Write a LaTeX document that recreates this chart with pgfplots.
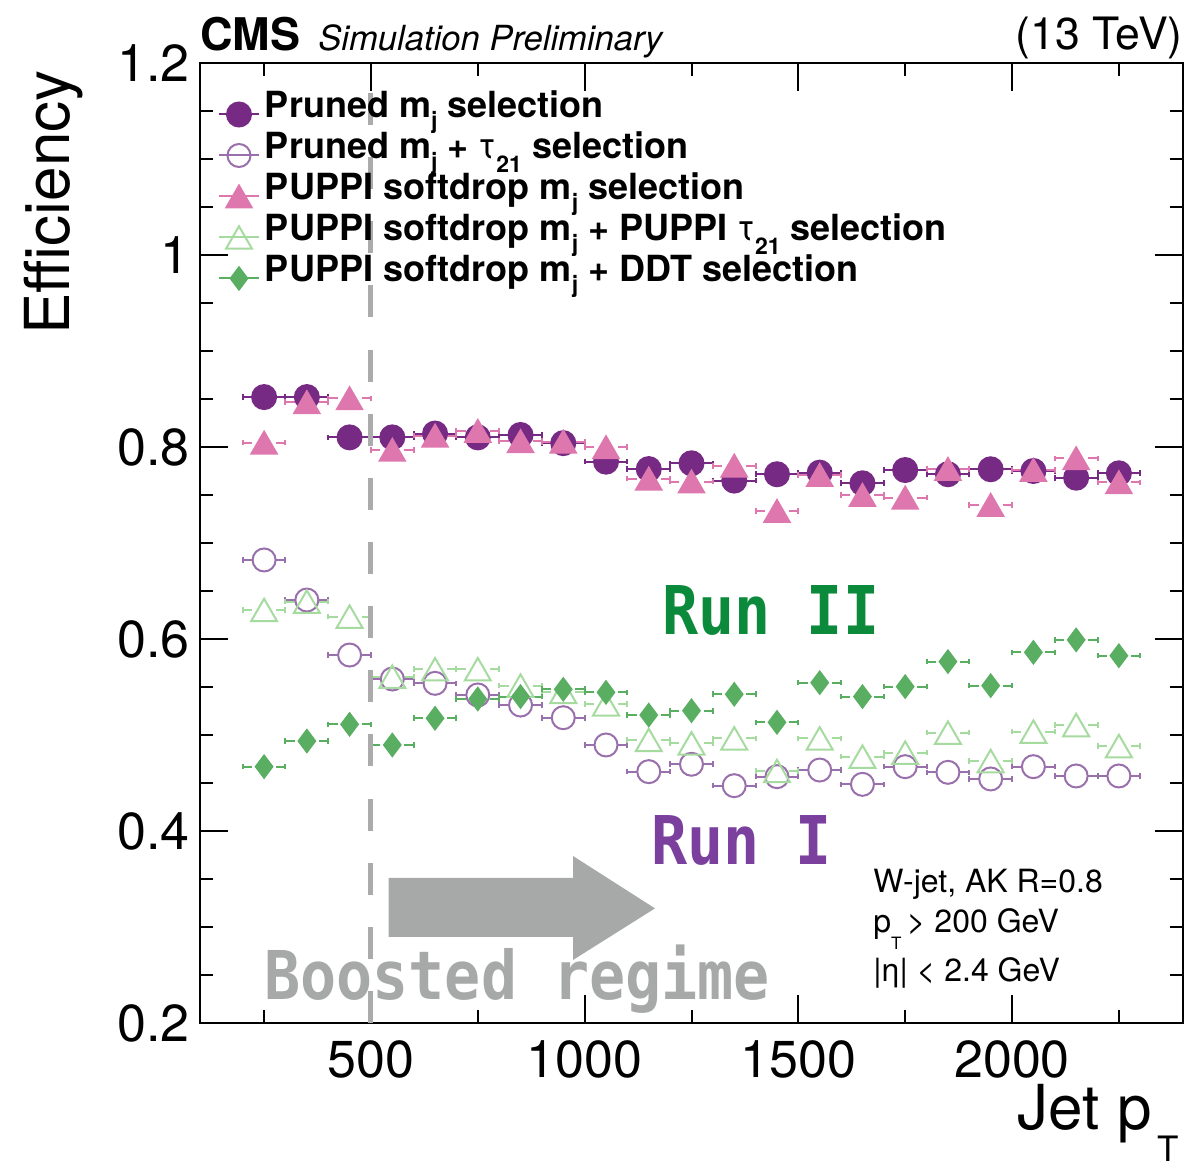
\documentclass[border=0pt]{standalone}
\usepackage{pgfplots}
\pgfplotsset{compat=1.18}
\usepackage{pgfplotstable}
\usepackage{fontspec}
\setmainfont{TeX Gyre Heros}
\newfontfamily\comicfont{DejaVu Sans Mono}
\definecolor{cA}{HTML}{762A83}
\definecolor{cB}{HTML}{9970AB}
\definecolor{cC}{HTML}{DE77AE}
\definecolor{cD}{HTML}{A6DBA0}
\definecolor{cE}{HTML}{5AAE61}
\definecolor{runII}{HTML}{0A8A3A}
\definecolor{runI}{HTML}{7B3F9E}
\definecolor{boost}{HTML}{A6A9A8}
\definecolor{dashg}{HTML}{ABABAB}

\newcommand{\sub}[1]{\raisebox{-5.5pt}{\fontsize{11.5}{11.5}\selectfont #1}}
\newcommand{\subb}[1]{\raisebox{-7pt}{\fontsize{11.5}{11.5}\selectfont #1}}
\newcommand{\tauS}{{\mdseries τ}}

\pgfplotsset{
  /pgfplots/error bars/draw error bar/.code 2 args={%
    \draw[line width=1pt, solid, shorten <=6pt] #1 -- #2;
    \draw[line width=1pt, solid] #2 ++(0pt,-1.4pt) -- ++(0pt,2.8pt);
  },
  legend image code/.code={%
    \draw[#1, line width=1pt, solid] (0pt,0pt) -- (20pt,0pt);
    \draw[#1, only marks, mark repeat=2, mark phase=2] plot coordinates {(0pt,0pt) (10pt,0pt) (20pt,0pt)};
  },
}

\pgfplotstableread{
x    a      b      c      d      e      ex
250  0.852  0.6823 0.8045 0.6302 0.4670 50
350  0.852  0.6406 0.8466 0.6389 0.4937 50
450  0.810  0.5833 0.8507 0.6233 0.5111 50
550  0.810  0.5583 0.7970 0.5608 0.4896 50
650  0.814  0.5538 0.8118 0.5685 0.5174 50
750  0.810  0.5417 0.8167 0.5685 0.5375 50
850  0.8125 0.5312 0.8060 0.5514 0.5400 50
950  0.804  0.5180 0.8055 0.5450 0.5476 50
1050 0.7847 0.4896 0.7997 0.5320 0.5444 50
1150 0.777  0.4618 0.7670 0.4948 0.5208 50
1250 0.783  0.4695 0.7640 0.4913 0.5253 50
1350 0.765  0.4472 0.7805 0.4965 0.5424 50
1450 0.7716 0.4566 0.7333 0.4625 0.5132 50
1550 0.7733 0.4635 0.7708 0.4965 0.5545 50
1650 0.7622 0.4486 0.7500 0.4774 0.5400 50
1750 0.776  0.4670 0.7472 0.4816 0.5504 50
1850 0.7716 0.4611 0.7771 0.5024 0.5764 50
1950 0.7768 0.4542 0.7396 0.4729 0.5514 50
2050 0.775  0.4670 0.7760 0.5035 0.5861 50
2150 0.768  0.4573 0.7882 0.5104 0.5990 50
2250 0.7726 0.4573 0.7632 0.4885 0.5826 50
}\data

\begin{document}
\begin{tikzpicture}
\useasboundingbox (-100pt,-71.5pt) rectangle (495pt,511.5pt);
\begin{axis}[
  at={(0pt,0pt)}, anchor=south west,
  scale only axis, width=491.5pt, height=480pt,
  xmin=100, xmax=2400, ymin=0.2, ymax=1.2,
  xtick={500,1000,1500,2000},
  minor xtick={250,750,1250,1750,2250},
  ytick={0.2,0.4,0.6,0.8,1,1.2},
  minor y tick num=3,
  tick align=inside,
  major tick length=14pt, minor tick length=6.5pt,
  tick style={line width=1pt, black},
  axis line style={line width=1.2pt},
  /pgf/number format/assume math mode=true,
  /pgf/number format/1000 sep={},
  scaled x ticks=false,
  xticklabel style={font=\fontsize{26}{26}\selectfont, inner sep=0pt, anchor=north, yshift=-8.5pt},
  yticklabel style={font=\fontsize{26}{26}\selectfont, inner sep=0pt, anchor=east, xshift=-5pt},
  legend style={at={(rel axis cs:0,1)}, anchor=north west, xshift=9pt, yshift=-15.5pt,
    draw=none, fill=none, inner sep=0pt, outer sep=0pt, row sep=0pt, column sep=2.5pt,
    font=\fontsize{18}{18}\selectfont\bfseries,
    nodes={inner sep=0pt, text height=12pt, text depth=8.5pt}},
  legend cell align=left,
]
\addplot[only marks, color=cA, line width=1pt, mark=*, mark size=6pt,
  mark options={solid, fill=cA, draw=cA},
  error bars/.cd, x dir=both, x explicit]
  table[x=x, y=a, x error=ex] {\data};
\addlegendentry{Pruned m\sub{j} selection}
\addplot[only marks, color=cB, line width=1pt, mark=o, mark size=5.75pt,
  mark options={solid, draw=cB, line width=1pt},
  error bars/.cd, x dir=both, x explicit]
  table[x=x, y=b, x error=ex] {\data};
\addlegendentry{Pruned m\sub{j} + \tauS\subb{21} selection}
\addplot[only marks, color=cC, line width=1pt, mark=triangle*, mark size=7.25pt,
  mark options={solid, fill=cC, draw=cC, yshift=-1.8pt},
  error bars/.cd, x dir=both, x explicit]
  table[x=x, y=c, x error=ex] {\data};
\addlegendentry{PUPPI softdrop m\sub{j} selection}
\addplot[only marks, color=cD, line width=1pt, mark=triangle, mark size=7.5pt,
  mark options={solid, draw=cD, line width=1pt, yshift=-1.875pt},
  error bars/.cd, x dir=both, x explicit]
  table[x=x, y=d, x error=ex] {\data};
\addlegendentry{PUPPI softdrop m\sub{j} + PUPPI \tauS\subb{21} selection}
\addplot[only marks, color=cE, line width=1pt, mark=diamond*, mark size=5.5pt,
  mark options={solid, fill=cE, draw=cE},
  error bars/.cd, x dir=both, x explicit]
  table[x=x, y=e, x error=ex] {\data};
\addlegendentry{PUPPI softdrop m\sub{j} + DDT selection}
\draw[dashg, line width=2.5pt, dash pattern=on 16pt off 16.07pt] (axis cs:500,0.2) -- (axis cs:500,1.2);
\end{axis}

% arrow
\fill[boost] (94.3pt,43pt) -- (186.5pt,43pt) -- (186.5pt,31.5pt) -- (227.5pt,57.3pt)
  -- (186.5pt,83.5pt) -- (186.5pt,72.5pt) -- (94.3pt,72.5pt) -- cycle;

% header
\node[anchor=base west, inner sep=0pt, font=\fontsize{22.5}{22.5}\selectfont\bfseries] at (0pt,486pt) {CMS};
\node[anchor=base west, inner sep=0pt, font=\fontsize{17.3}{17.3}\selectfont\itshape] at (59pt,486pt) {Simulation Preliminary};
\node[anchor=base east, inner sep=0pt, font=\fontsize{22.3}{22.3}\selectfont] at (491.5pt,486.5pt) {(13 TeV)};

% axis titles
\node[rotate=90, anchor=base east, inner sep=0pt, font=\fontsize{31}{31}\selectfont] at (-65pt,476.5pt) {Efficiency};
\node[anchor=base east, inner sep=0pt, font=\fontsize{31}{31}\selectfont] at (476pt,-53.5pt) {Jet p};
\node[anchor=base west, inner sep=0pt, font=\fontsize{17.5}{17.5}\selectfont] at (478.5pt,-69.5pt) {T};

% annotations
\node[anchor=base west, inner sep=0pt, text=runII, font=\comicfont\bfseries\fontsize{30}{30}\selectfont] at (231pt,194pt) {\scalebox{1}[1.12]{Run II}};
\node[anchor=base west, inner sep=0pt, text=runI, font=\comicfont\bfseries\fontsize{30}{30}\selectfont] at (225.5pt,79pt) {\scalebox{1}[1.12]{Run I}};
\node[anchor=base west, inner sep=0pt, text=boost, font=\comicfont\bfseries\fontsize{30}{30}\selectfont] at (32pt,11.5pt) {\scalebox{1}[1.12]{Boosted regime}};

\node[anchor=base west, inner sep=0pt, font=\fontsize{16}{16}\selectfont] at (336.5pt,65pt) {W-jet, AK R=0.8};
\node[anchor=base west, inner sep=0pt, font=\fontsize{16}{16}\selectfont] at (336.5pt,45pt) {p\raisebox{-8.5pt}{\fontsize{8.5}{8.5}\selectfont T}\,> 200 GeV};
\node[anchor=base west, inner sep=0pt, font=\fontsize{16}{16}\selectfont] at (336.5pt,20.7pt) {|η| < 2.4 GeV};
\end{tikzpicture}
\end{document}
